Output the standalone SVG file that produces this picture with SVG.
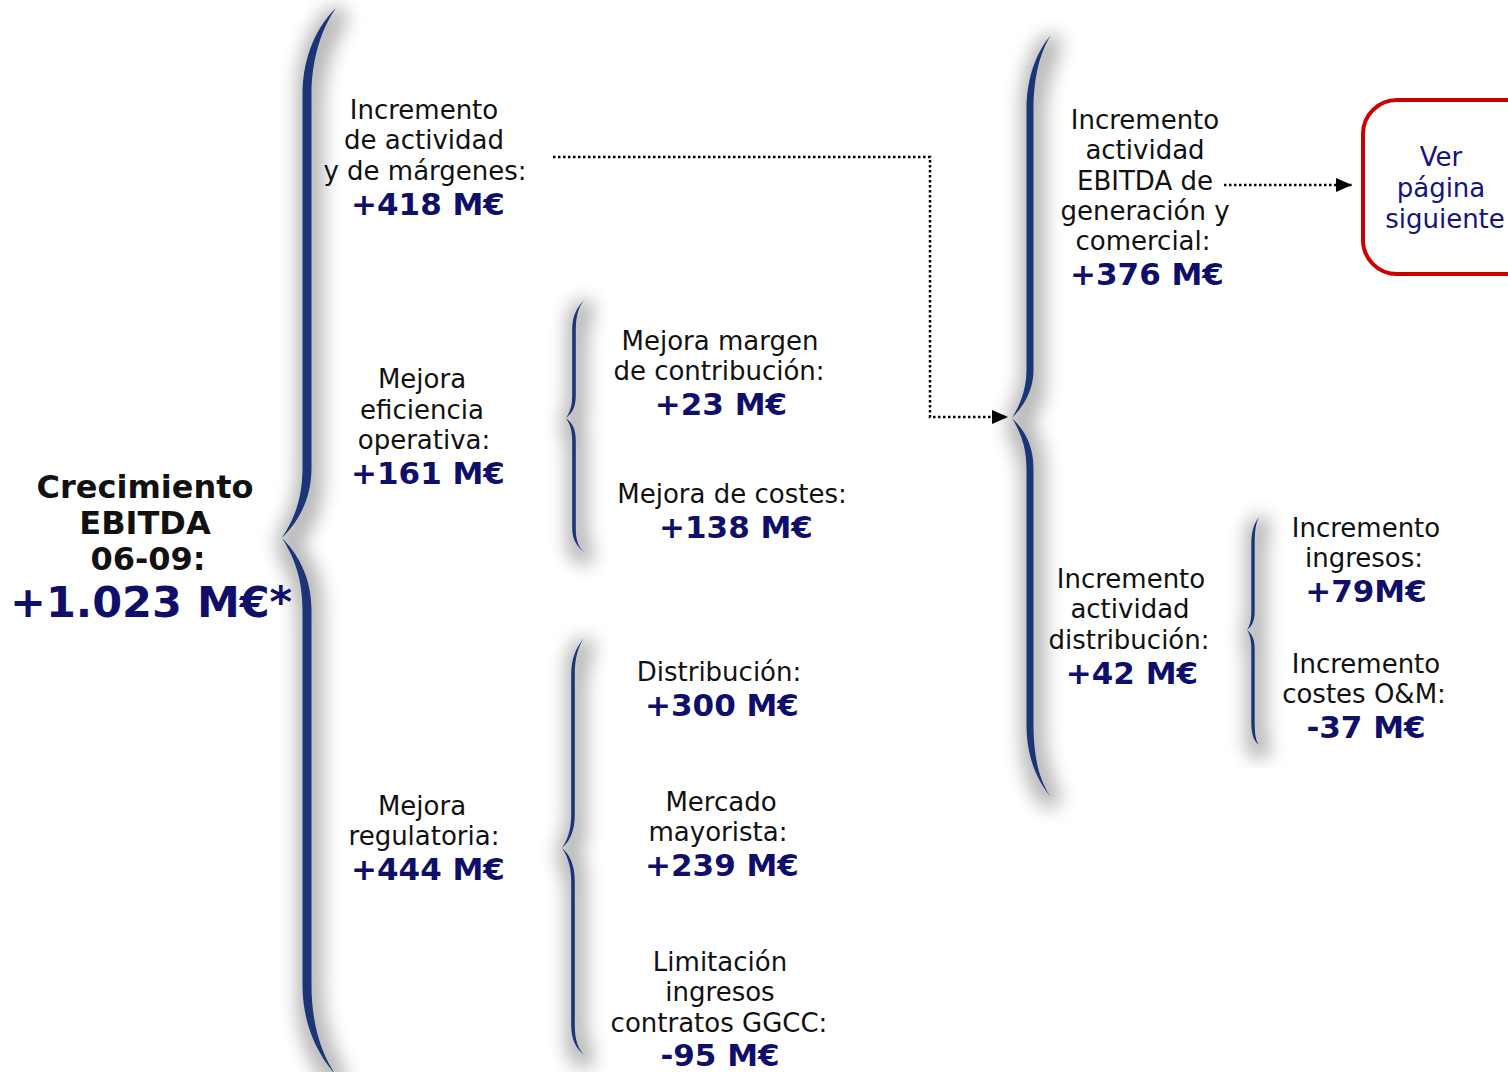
<svg xmlns="http://www.w3.org/2000/svg" width="1508" height="1072" viewBox="0 0 1508 1072">
<defs>
<style>
.t{font-family:"DejaVu Sans",Verdana,sans-serif;font-size:26px;fill:#111;text-anchor:middle}
.n{font-family:"DejaVu Sans",Verdana,sans-serif;font-size:31px;font-weight:bold;fill:#0f0f6b;text-anchor:middle}
.h{font-family:"DejaVu Sans",Verdana,sans-serif;font-size:32px;font-weight:bold;fill:#111;text-anchor:middle}
.v{font-family:"DejaVu Sans",Verdana,sans-serif;font-size:26px;fill:#141480;text-anchor:middle}
.brace{fill:#1b3577}
.dot{fill:none;stroke:#000;stroke-width:2.5;stroke-dasharray:2.5 2.5}
</style>
<filter id="sh" x="-400%" y="-10%" width="900%" height="120%">
<feMorphology in="SourceAlpha" operator="dilate" radius="9" result="d"/>
<feGaussianBlur in="d" stdDeviation="9" result="b"/>
<feOffset in="b" dx="3" dy="6" result="o"/>
<feComponentTransfer in="o" result="c"><feFuncA type="linear" slope="0.28"/></feComponentTransfer>
<feMerge><feMergeNode in="c"/><feMergeNode in="SourceGraphic"/></feMerge>
</filter>
<marker id="ah" markerUnits="userSpaceOnUse" markerWidth="16" markerHeight="14" refX="16" refY="7" orient="auto">
<path d="M0,0 L16,7 L0,14 z" fill="#000"/>
</marker>
</defs>
<rect width="1508" height="1072" fill="#fff"/>

<g id="braces">
<path id="brace-main" class="brace" filter="url(#sh)" d="M336 8 C318 25 302.5 55 302.5 95 L302.5 468 C302.5 505 290 525 282 538 C290 551 302.5 572 302.5 610 L302.5 985 C302.5 1025 318 1055 336 1075 C322 1055 311.5 1025 311.5 985 L311.5 610 C311.5 575 296 552 282 538 C296 524 311.5 502 311.5 468 L311.5 95 C311.5 58 322 28 336 8 Z"/>
<path id="brace-right" class="brace" filter="url(#sh)" d="M1051 35 C1038 50 1026.5 75 1026.5 110 L1026.5 370 C1026.5 392 1018 408 1012 418 C1018 428 1026.5 444 1026.5 468 L1026.5 725 C1026.5 758 1038 782 1051 797 C1040 782 1033.5 758 1033.5 725 L1033.5 468 C1033.5 442 1022 428 1012 418 C1022 408 1033.5 392 1033.5 370 L1033.5 110 C1033.5 78 1040 52 1051 35 Z"/>
<path id="brace-s1" class="brace" filter="url(#sh)" d="M584 300 C577 308 572.2 315 572.2 330 L572.2 395 C572.2 408 569 413 566 418 C569 423 572.2 428 572.2 441 L572.2 528 C572.2 540 577 546 584 552 C578 546 575.8 540 575.8 528 L575.8 441 C575.8 428 572 423 566 418 C572 413 575.8 408 575.8 395 L575.8 330 C575.8 315 579 307 584 300 Z"/>
<path id="brace-s2" class="brace" filter="url(#sh)" d="M584 638 C576 648 571.2 658 571.2 675 L571.2 815 C571.2 832 566 842 562 848 C566 854 571.2 864 571.2 881 L571.2 1025 C571.2 1040 576 1048 584 1055 C578 1048 574.8 1040 574.8 1025 L574.8 881 C574.8 864 569 854 562 848 C569 842 574.8 832 574.8 815 L574.8 675 C574.8 658 578 647 584 638 Z"/>
<path id="brace-s3" class="brace" filter="url(#sh)" d="M1259 517 C1254 524 1251.3 530 1251.3 545 L1251.3 612 C1251.3 622 1249 627 1247 630 C1249 633 1251.3 638 1251.3 648 L1251.3 722 C1251.3 735 1254 741 1259 745 C1256 741 1254.7 735 1254.7 722 L1254.7 648 C1254.7 638 1251 633 1247 630 C1251 627 1254.7 622 1254.7 612 L1254.7 545 C1254.7 530 1256 523 1259 517 Z"/>
</g>

<g id="connectors">
<polyline class="dot" points="553,157 930,157 930,417 1008,417" marker-end="url(#ah)"/>
<line class="dot" x1="1224" y1="185" x2="1352" y2="185" marker-end="url(#ah)"/>
</g>

<g id="node-main">
<text class="h" x="145" y="498">Crecimiento</text>
<text class="h" x="145" y="534">EBITDA</text>
<text class="h" x="148" y="570">06-09:</text>
<text class="n" x="151" y="617" style="font-size:43px">+1.023 M€*</text>
</g>

<g id="node-actividad">
<text class="t" x="424" y="119">Incremento</text>
<text class="t" x="424" y="149">de actividad</text>
<text class="t" x="425" y="180">y de márgenes:</text>
<text class="n" x="428" y="215">+418 M€</text>
</g>

<g id="node-eficiencia">
<text class="t" x="422" y="388">Mejora</text>
<text class="t" x="422" y="419">eficiencia</text>
<text class="t" x="424" y="449">operativa:</text>
<text class="n" x="428" y="484">+161 M€</text>
</g>

<g id="node-margen">
<text class="t" x="720" y="350">Mejora margen</text>
<text class="t" x="719" y="380">de contribución:</text>
<text class="n" x="721" y="415">+23 M€</text>
</g>

<g id="node-costes">
<text class="t" x="732" y="503">Mejora de costes:</text>
<text class="n" x="736" y="538">+138 M€</text>
</g>

<g id="node-regulatoria">
<text class="t" x="422" y="815">Mejora</text>
<text class="t" x="424" y="845">regulatoria:</text>
<text class="n" x="428" y="880">+444 M€</text>
</g>

<g id="node-distribucion">
<text class="t" x="719" y="681">Distribución:</text>
<text class="n" x="722" y="716">+300 M€</text>
</g>

<g id="node-mercado">
<text class="t" x="721" y="811">Mercado</text>
<text class="t" x="718" y="841">mayorista:</text>
<text class="n" x="722" y="876">+239 M€</text>
</g>

<g id="node-limitacion">
<text class="t" x="720" y="971">Limitación</text>
<text class="t" x="720" y="1001">ingresos</text>
<text class="t" x="719" y="1032">contratos GGCC:</text>
<text class="n" x="720" y="1066">-95 M€</text>
</g>

<g id="node-generacion">
<text class="t" x="1145" y="129">Incremento</text>
<text class="t" x="1145" y="159">actividad</text>
<text class="t" x="1145" y="190">EBITDA de</text>
<text class="t" x="1145" y="220">generación y</text>
<text class="t" x="1143" y="250">comercial:</text>
<text class="n" x="1147" y="285">+376 M€</text>
</g>

<g id="node-ver">
<rect x="1363" y="100" width="180" height="174" rx="34" ry="34" fill="#fff" stroke="#cc0000" stroke-width="4"/>
<text class="v" x="1441" y="166">Ver</text>
<text class="v" x="1441" y="197">página</text>
<text class="v" x="1445" y="228">siguiente</text>
</g>

<g id="node-act-distribucion">
<text class="t" x="1131" y="588">Incremento</text>
<text class="t" x="1130" y="618">actividad</text>
<text class="t" x="1129" y="649">distribución:</text>
<text class="n" x="1132" y="684">+42 M€</text>
</g>

<g id="node-ingresos">
<text class="t" x="1366" y="537">Incremento</text>
<text class="t" x="1364" y="567">ingresos:</text>
<text class="n" x="1366" y="602">+79M€</text>
</g>

<g id="node-om">
<text class="t" x="1366" y="673">Incremento</text>
<text class="t" x="1364" y="703">costes O&amp;M:</text>
<text class="n" x="1366" y="738">-37 M€</text>
</g>
</svg>
